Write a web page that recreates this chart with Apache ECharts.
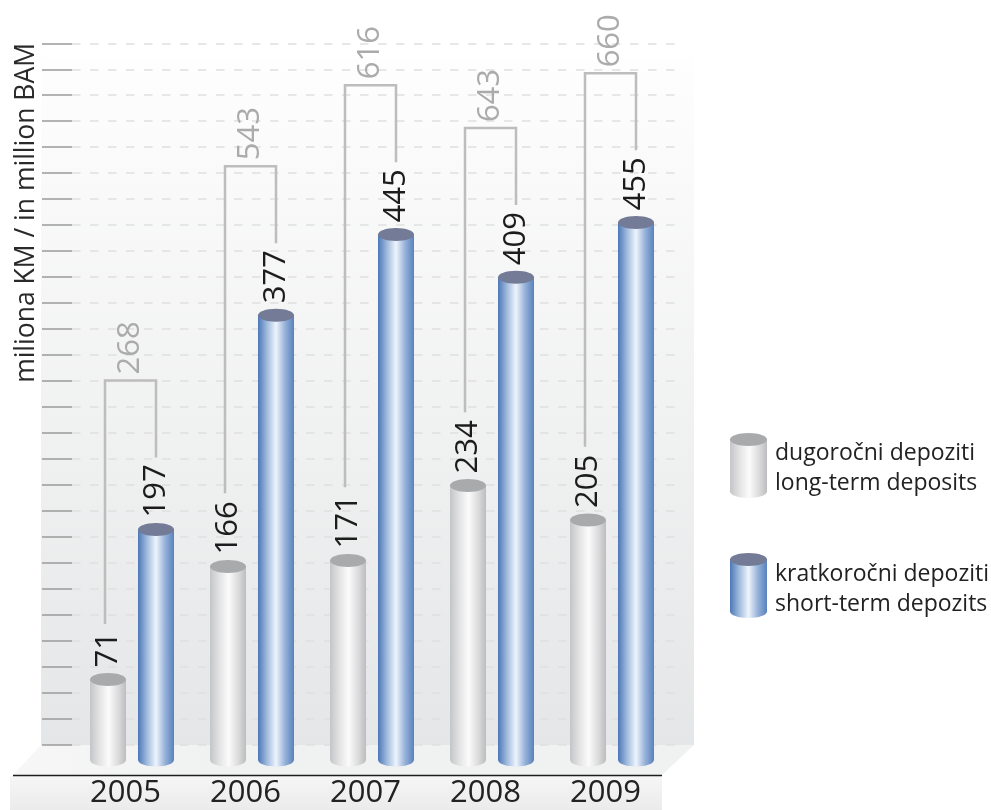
<!DOCTYPE html>
<html>
<head>
<meta charset="utf-8">
<script src="https://cdn.jsdelivr.net/npm/echarts@6/dist/echarts.min.js"></script>
<style>
  html, body { margin: 0; padding: 0; background: #ffffff; }
  #chart { width: 991px; height: 810px; }
</style>
</head>
<body>
<div id="chart"></div>
<script>
// Deposits by maturity, in million BAM
const years = ['2005', '2006', '2007', '2008', '2009'];
const longTerm = [71, 166, 171, 234, 205];
const shortTerm = [197, 377, 445, 409, 455];
const totals = [268, 543, 616, 643, 660];
const seriesNames = ['dugoročni depoziti\nlong-term deposits', 'kratkoročni depoziti\nshort-term depozits'];
const axisTitle = 'miliona KM / in million BAM';
const wallSteps = 27;

const FONT = '"Open Sans", "Noto Sans", sans-serif';
const VALUE_FONT = '31px ' + FONT;

const GRAY = {
  body: [
    { offset: 0, color: '#c4c5c7' },
    { offset: 0.25, color: '#e2e2e3' },
    { offset: 0.52, color: '#fbfbfb' },
    { offset: 0.78, color: '#dcdcdd' },
    { offset: 1, color: '#bcbdbf' }
  ],
  cap: '#a9aaac'
};
const BLUE = {
  body: [
    { offset: 0, color: '#4d78b6' },
    { offset: 0.25, color: '#9fbadd' },
    { offset: 0.5, color: '#eef4fc' },
    { offset: 0.76, color: '#94b0d8' },
    { offset: 1, color: '#5882bd' }
  ],
  cap: '#737b96'
};

const measureCtx = document.createElement('canvas').getContext('2d');
function textLength(t) {
  measureCtx.font = VALUE_FONT;
  return measureCtx.measureText(t).width;
}

// one cylinder per category, drawn from the value axis
function cylinderSeries(name, values, shift, palette) {
  return {
    type: 'custom',
    name: name,
    xAxisIndex: 0,
    yAxisIndex: 0,
    z: 3,
    data: values.map((v, i) => [i, v]),
    encode: { x: 0, y: 1 },
    renderItem: function (params, api) {
      const top = api.coord([api.value(0), api.value(1)]);
      const base = api.coord([api.value(0), 0]);
      const band = api.size([1, 0])[0];
      const cx = top[0] + shift * band;
      const w = band * 0.3;
      const rx = w / 2, ry = 6.5;
      const bottomY = base[1] - 4;
      const fill = new echarts.graphic.LinearGradient(0, 0, 1, 0, palette.body);
      return {
        type: 'group',
        children: [
          { type: 'ellipse', shape: { cx: cx, cy: bottomY, rx: rx, ry: ry }, style: { fill: fill } },
          { type: 'rect', shape: { x: cx - rx, y: top[1], width: w, height: bottomY - top[1] }, style: { fill: fill } },
          { type: 'ellipse', shape: { cx: cx, cy: top[1], rx: rx, ry: ry }, style: { fill: palette.cap } },
          {
            type: 'text', x: cx, y: top[1] - 12, rotation: Math.PI / 2,
            style: { text: String(api.value(1)), font: VALUE_FONT, fill: '#1c1c1c', align: 'left', verticalAlign: 'middle' }
          }
        ]
      };
    }
  };
}

// bracket joining both cylinders of a year, with the year's total above it
const bracketSeries = {
  type: 'custom',
  name: 'total',
  xAxisIndex: 0,
  yAxisIndex: 0,
  z: 2,
  data: years.map((y, i) => [i, longTerm[i], shortTerm[i], totals[i]]),
  encode: { x: 0, y: 3 },
  renderItem: function (params, api) {
    const i = api.value(0);
    const g = api.coord([i, api.value(1)]);
    const b = api.coord([i, api.value(2)]);
    const band = api.size([1, 0])[0];
    const left = g[0] - band * 0.225;
    const right = g[0] + band * 0.2;
    const gEnd = g[1] - 12 - textLength(String(api.value(1)));
    const bEnd = b[1] - 12 - textLength(String(api.value(2)));
    const topY = bEnd - 84;
    return {
      type: 'group',
      children: [
        {
          type: 'polyline',
          shape: { points: [[left, gEnd - 8], [left, topY], [right, topY], [right, bEnd - 7]] },
          style: { stroke: '#bdbdbd', lineWidth: 2.5, fill: null }
        },
        {
          type: 'text', x: (left + right) / 2, y: topY - 6, rotation: Math.PI / 2,
          style: { text: String(api.value(3)), font: VALUE_FONT, fill: '#ababab', align: 'left', verticalAlign: 'middle' }
        }
      ]
    };
  }
};

function legendIcon(x, top, palette) {
  const fill = new echarts.graphic.LinearGradient(0, 0, 1, 0, palette.body);
  return [
    { type: 'ellipse', shape: { cx: x + 18.5, cy: top + 58.5, rx: 18.5, ry: 6.5 }, style: { fill: fill } },
    { type: 'rect', shape: { x: x, y: top + 6.5, width: 37, height: 52 }, style: { fill: fill } },
    { type: 'ellipse', shape: { cx: x + 18.5, cy: top + 6.5, rx: 18.5, ry: 6.5 }, style: { fill: palette.cap } }
  ];
}

const chart = echarts.init(document.getElementById('chart'), null, { renderer: 'canvas' });

chart.setOption({
  animation: false,
  backgroundColor: '#ffffff',
  grid: [
    { left: 72, right: 319, top: 50, bottom: 46 },
    { left: 72, right: 310, top: 43.3, bottom: 65.7 }
  ],
  xAxis: [
    {
      type: 'category', gridIndex: 0, data: years,
      axisLine: { show: false }, axisTick: { show: false },
      axisLabel: { fontFamily: FONT, fontSize: 31, color: '#222222', margin: 14, padding: [0, 13, 0, 0] }
    },
    { type: 'value', gridIndex: 1, show: false }
  ],
  yAxis: [
    { type: 'value', gridIndex: 0, min: 0, max: 600, show: false },
    {
      type: 'value', gridIndex: 1, min: 0, max: wallSteps, interval: 1, z: 1,
      axisLine: { show: false },
      axisLabel: { show: false },
      axisTick: { show: true, length: 30, lineStyle: { color: '#9b9b9b', width: 1.5 } },
      splitLine: { show: true, lineStyle: { color: '#dfdfdf', width: 1.5, type: [8.5, 9.5] } }
    }
  ],
  graphic: [
    {
      type: 'rect', z: 0, shape: { x: 41, y: 57, width: 653, height: 688 },
      style: { fill: new echarts.graphic.LinearGradient(0, 0, 0, 1, [{ offset: 0, color: '#fefefe' }, { offset: 1, color: '#e5e6e7' }]) }
    },
    {
      type: 'polygon', z: 0, shape: { points: [[41, 745], [694, 745], [662, 775], [13, 775]] },
      style: { fill: new echarts.graphic.LinearGradient(0, 0, 1, 0, [{ offset: 0, color: '#f7f7f7' }, { offset: 0.3, color: '#f0f1f1' }, { offset: 1, color: '#f0f1f1' }]) }
    },
    {
      type: 'rect', z: 0, shape: { x: 10, y: 776, width: 652, height: 34 },
      style: { fill: new echarts.graphic.LinearGradient(0, 0, 0, 1, [{ offset: 0, color: '#f6f6f6' }, { offset: 1, color: '#ebebeb' }]) }
    },
    { type: 'line', z: 0, shape: { x1: 13, y1: 775.5, x2: 662, y2: 775.5 }, style: { stroke: '#1e1e1e', lineWidth: 1.5 } },
    {
      type: 'text', z: 5, x: 26, y: 43, rotation: Math.PI / 2,
      style: { text: axisTitle, font: '26.5px ' + FONT, fill: '#2a2a2a', align: 'right', verticalAlign: 'middle' }
    },
    {
      type: 'group', z: 5,
      children: legendIcon(730, 433, GRAY).concat([
        { type: 'text', x: 775, y: 468, style: { text: seriesNames[0], font: '23px ' + FONT, lineHeight: 30, fill: '#222222', align: 'left', verticalAlign: 'middle' } }
      ])
    },
    {
      type: 'group', z: 5,
      children: legendIcon(730, 553, BLUE).concat([
        { type: 'text', x: 775, y: 589, style: { text: seriesNames[1], font: '23px ' + FONT, lineHeight: 30, fill: '#222222', align: 'left', verticalAlign: 'middle' } }
      ])
    }
  ],
  series: [
    bracketSeries,
    cylinderSeries(seriesNames[0], longTerm, -0.2, GRAY),
    cylinderSeries(seriesNames[1], shortTerm, 0.2, BLUE)
  ]
});
</script>
</body>
</html>
